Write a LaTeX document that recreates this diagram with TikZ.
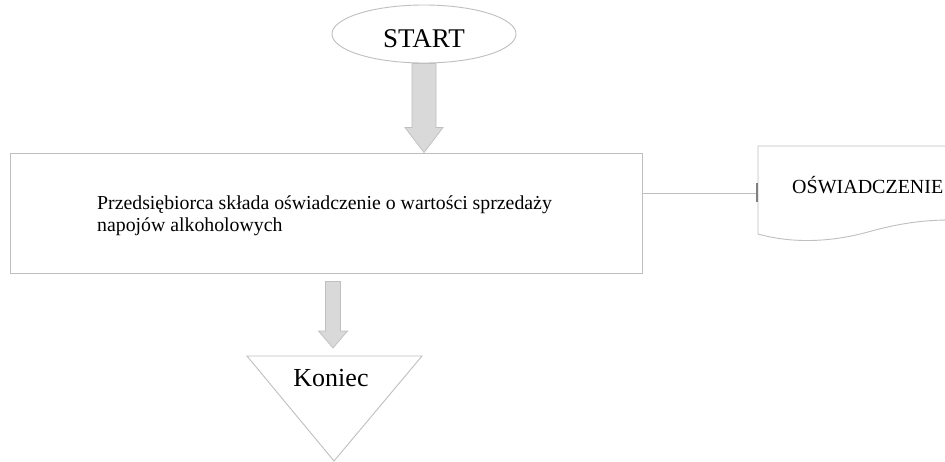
\documentclass[tikz,border=0pt]{standalone}
\usepackage{fontspec}
\setmainfont{Liberation Serif}
\usetikzlibrary{shapes.geometric,calc}
\definecolor{edge}{HTML}{BFBFBF}
\definecolor{arrowfill}{HTML}{D9D9D9}
\definecolor{tickgray}{HTML}{808080}
\tikzset{
  outline/.style={draw=edge, line width=0.9pt},
  blockarrow/.style={fill=arrowfill, draw=edge, line width=0.7pt, line join=miter},
  conn/.style={draw=edge, line width=0.9pt},
  tickmark/.style={draw=tickgray, line width=2pt},
}
\begin{document}
\begin{tikzpicture}[x=1pt,y=-1pt]
\useasboundingbox (0,0) rectangle (945,461);
\fill[white] (0,0) rectangle (945,461);

% start terminator
\node[outline, ellipse, minimum width=184pt, minimum height=58pt, inner sep=0pt,
      text height=26pt, text depth=0pt,
      font=\fontsize{27}{30}\selectfont] (start) at (424,34) {START};

% process step
\node[outline, rectangle, minimum width=632pt, minimum height=120pt, inner sep=0pt] (proc) at (326,213) {};
\node[anchor=west, inner sep=0pt, align=left, font=\fontsize{19.8}{22}\selectfont] (proctext) at (97,216)
  {Przedsiębiorca składa oświadczenie o wartości sprzedaży\\napojów alkoholowych};

% document symbol
\draw[outline] (950,146) -- (758,146) -- (758,234)
  .. controls (790,243) and (828,243) .. (868,232)
  .. controls (900,223) and (925,220) .. (950,220);
\node[font=\fontsize{20}{24}\selectfont, anchor=base west, inner sep=0pt] (doc) at (792,193) {OŚWIADCZENIE};
\coordinate (docin) at (757,193);

% end terminator
\draw[outline] (247,356) -- (422,356) -- (334,461) -- cycle;
\node[font=\fontsize{26}{30}\selectfont, anchor=base, inner sep=0pt] (end) at (331,386) {Koniec};
\coordinate (endtop) at (333,356);

% block arrow: start -> process
\coordinate (a1tip) at (start.south |- proc.north);
\path[blockarrow]
  ($(start.south)+(-12,0)$) -- ($(a1tip)+(-12,-25)$) -- ($(a1tip)+(-19,-25)$)
  -- (a1tip) -- ($(a1tip)+(19,-25)$) -- ($(a1tip)+(12,-25)$)
  -- ($(start.south)+(12,0)$) -- cycle;

% block arrow: process -> end
\coordinate (a2top) at ($(endtop |- proc.south)+(0,8)$);
\coordinate (a2tip) at ($(endtop)+(0,-8)$);
\path[blockarrow]
  ($(a2top)+(-7.5,0)$) -- ($(a2tip)+(-7.5,-17)$) -- ($(a2tip)+(-14.5,-17)$)
  -- (a2tip) -- ($(a2tip)+(14.5,-17)$) -- ($(a2tip)+(7.5,-17)$)
  -- ($(a2top)+(7.5,0)$) -- cycle;

% link process -> document
\draw[conn] (proc.east |- docin) -- (docin);
\draw[tickmark] ($(docin)+(0,-10)$) -- ($(docin)+(0,9)$);
\end{tikzpicture}
\end{document}
